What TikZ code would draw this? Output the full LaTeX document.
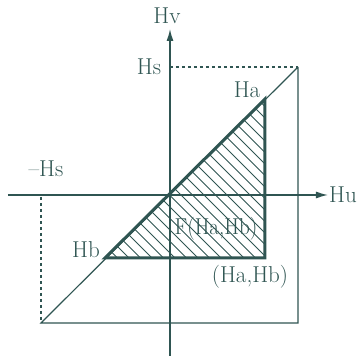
\documentclass[tikz,border=0pt]{standalone}
\usetikzlibrary{arrows.meta}
\definecolor{ink}{RGB}{47,85,82}
\begin{document}
\begin{tikzpicture}[x=1pt,y=-1pt,
  thin line/.style={draw=ink,line width=1.2pt},
  axis/.style={draw=ink,line width=1.4pt,-{Latex[length=12pt,width=7pt]}},
  thick line/.style={draw=ink,line width=3pt,line join=miter},
  dash line/.style={draw=ink,line width=1.3pt,dash pattern=on 3pt off 3pt},
  hatch/.style={draw=ink,line width=0.8pt},
  lbl/.style={text=ink,inner sep=0pt,font=\fontsize{23}{26}\selectfont}]
\path[use as bounding box] (0,0) rectangle (360,356);
% coordinates
\coordinate (O) at (170,195);
\coordinate (vtop) at (170,29);
\coordinate (vbot) at (170,356);
\coordinate (hleft) at (8,195);
\coordinate (hright) at (328,195);
\coordinate (S) at (298,67);
\coordinate (Sv) at (170,67);
\coordinate (BR) at (298,323);
\coordinate (BL) at (41,323);
\coordinate (Lt) at (41,197);
\coordinate (A) at (265,99);
\coordinate (B) at (105,258);
\coordinate (C) at (265,258);
% frame
\draw[thin line] (S) -- (BR) -- (BL) -- (S);
\draw[dash line] (Sv) -- (S);
\draw[dash line] (Lt) -- (BL);
% hatching
\begin{scope}
\clip (A) -- (B) -- (C) -- cycle;
\foreach \c in {-170,-158.5,...,160}
  \draw[hatch] (90,90+\c) -- (280,280+\c);
\end{scope}
% axes
\draw[axis] (vbot) -- (vtop);
\draw[axis] (hleft) -- (hright);
% triangle
\draw[thick line] (A) -- (B) -- (C) -- cycle;
% labels
\node[lbl] (hv) at (167,16) {Hv};
\node[lbl] (hs) at (149,67) {Hs};
\node[lbl] (ha) at (247,90) {Ha};
\node[lbl] (mhs) at (46,169) {--Hs};
\node[lbl] (hu) at (343,195) {Hu};
\node[lbl] (hb) at (86,250) {Hb};
\node[lbl,xscale=0.92] (f) at (216,229) {F(Ha,Hb)};
\node[lbl] (hab) at (250,277) {(Ha,Hb)};
\end{tikzpicture}
\end{document}
